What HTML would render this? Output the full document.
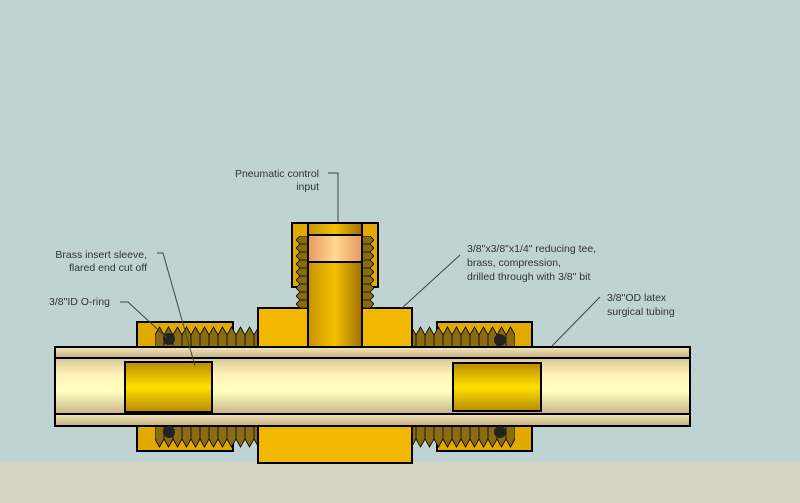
<!DOCTYPE html>
<html><head><style>body{margin:0}svg{display:block}text{font-family:"Liberation Sans","DejaVu Sans",sans-serif;font-size:10.5px;fill:#333}</style></head><body>
<svg width="800" height="503" xmlns="http://www.w3.org/2000/svg">
<defs>
<linearGradient id="tube" x1="0" y1="0" x2="0" y2="1">
<stop offset="0" stop-color="#d8c898"/><stop offset="0.3" stop-color="#fff3b8"/><stop offset="0.6" stop-color="#ffffc0"/><stop offset="1" stop-color="#c8b488"/></linearGradient>
<linearGradient id="wall" x1="0" y1="0" x2="0" y2="1">
<stop offset="0" stop-color="#f5e8b8"/><stop offset="1" stop-color="#c4b084"/></linearGradient>
<linearGradient id="sleeve" x1="0" y1="0" x2="0" y2="1">
<stop offset="0" stop-color="#b88c00"/><stop offset="0.5" stop-color="#ffe000"/><stop offset="1" stop-color="#b88c00"/></linearGradient>
<linearGradient id="post" x1="0" y1="0" x2="1" y2="0">
<stop offset="0" stop-color="#c89400"/><stop offset="0.5" stop-color="#f5c000"/><stop offset="1" stop-color="#a07000"/></linearGradient>
<linearGradient id="cu" x1="0" y1="0" x2="1" y2="0">
<stop offset="0" stop-color="#e89860"/><stop offset="0.5" stop-color="#ffd890"/><stop offset="1" stop-color="#e89860"/></linearGradient>
<pattern id="thr" x="155" y="326" width="9" height="22" patternUnits="userSpaceOnUse"><path d="M0 9 L4.5 1 L9 9 V22 H0Z" fill="#8a6c10" stroke="#000" stroke-width="0.8"/></pattern>
<pattern id="thrd" x="155" y="426" width="9" height="22" patternUnits="userSpaceOnUse"><path d="M0 13 L4.5 21 L9 13 V0 H0Z" fill="#8a6c10" stroke="#000" stroke-width="0.8"/></pattern>
<pattern id="thv" x="296" y="236" width="12" height="8" patternUnits="userSpaceOnUse"><path d="M12 0 L4 0 L0 4 L4 8 L12 8Z" fill="#8a6c10" stroke="#000" stroke-width="0.8"/></pattern>
<pattern id="thv2" x="362" y="236" width="12" height="8" patternUnits="userSpaceOnUse"><path d="M0 0 L8 0 L12 4 L8 8 L0 8Z" fill="#8a6c10" stroke="#000" stroke-width="0.8"/></pattern>
</defs>
<rect width="800" height="503" fill="#bfd3d3"/>
<rect y="462" width="800" height="41" fill="#d6d3c0"/>
<!-- nuts -->
<rect x="137" y="322" width="96" height="129" fill="#e0aa00" stroke="#000" stroke-width="2"/>
<rect x="437" y="322" width="95" height="129" fill="#e0aa00" stroke="#000" stroke-width="2"/>
<rect x="155" y="326" width="103" height="22" fill="url(#thr)"/>
<rect x="412" y="326" width="103" height="22" fill="url(#thr)"/>
<rect x="155" y="426" width="103" height="22" fill="url(#thrd)"/>
<rect x="412" y="426" width="103" height="22" fill="url(#thrd)"/>
<!-- tee body -->
<rect x="258" y="308" width="154" height="40" fill="#f2b800" stroke="#000" stroke-width="2"/>
<rect x="258" y="426" width="154" height="37" fill="#f2b800" stroke="#000" stroke-width="2"/>
<rect x="292" y="223" width="86" height="64" fill="#e0aa00" stroke="#000" stroke-width="2"/>
<rect x="296" y="236" width="12" height="72" fill="url(#thv)"/>
<rect x="362" y="236" width="12" height="72" fill="url(#thv2)"/>
<rect x="308" y="223" width="54" height="125" fill="url(#post)" stroke="#000" stroke-width="2"/>
<rect x="308" y="235" width="54" height="27" fill="url(#cu)" stroke="#000" stroke-width="2"/>
<!-- tube -->
<rect x="55" y="347" width="635" height="11" fill="url(#wall)" stroke="#000" stroke-width="2"/>
<rect x="55" y="414" width="635" height="12" fill="url(#wall)" stroke="#000" stroke-width="2"/>
<rect x="55" y="358" width="635" height="56" fill="url(#tube)" stroke="#000" stroke-width="2"/>
<rect x="125" y="362" width="87" height="50" fill="url(#sleeve)" stroke="#000" stroke-width="2"/>
<rect x="453" y="363" width="88" height="48" fill="url(#sleeve)" stroke="#000" stroke-width="2"/>
<circle cx="169" cy="339" r="6" fill="#222"/><circle cx="169" cy="432" r="6" fill="#222"/>
<circle cx="500" cy="340" r="6" fill="#222"/><circle cx="500" cy="432" r="6" fill="#222"/>
<!-- labels -->
<g stroke="#444" fill="none" stroke-width="1">
<polyline points="328,173 338,173 338,222"/>
<polyline points="157,253 163,253 195,366"/>
<polyline points="120,302 128,302 167,338"/>
<polyline points="460,255 402,308"/>
<polyline points="600,297 552,346"/>
</g>
<text x="319" y="177" text-anchor="end">Pneumatic control</text>
<text x="319" y="190" text-anchor="end">input</text>
<text x="147" y="258" text-anchor="end">Brass insert sleeve,</text>
<text x="147" y="271" text-anchor="end">flared end cut off</text>
<text x="49" y="305">3/8"ID O-ring</text>
<text x="467" y="252">3/8"x3/8"x1/4" reducing tee,</text>
<text x="467" y="266">brass, compression,</text>
<text x="467" y="280">drilled through with 3/8" bit</text>
<text x="607" y="301">3/8"OD latex</text>
<text x="607" y="315">surgical tubing</text>
</svg>
</body></html>
